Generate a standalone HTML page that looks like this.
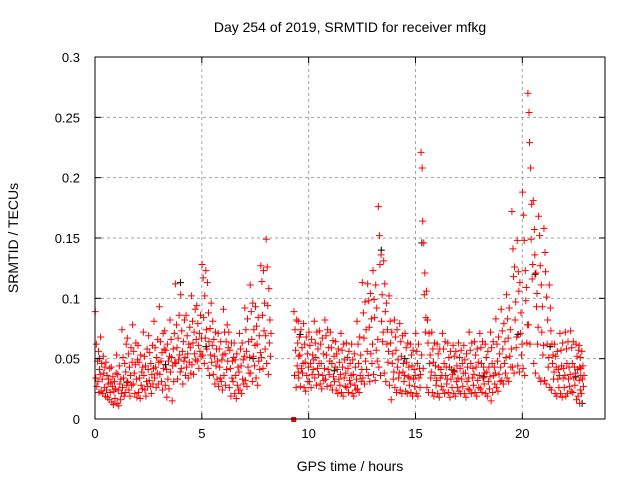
<!DOCTYPE html>
<html><head><meta charset="utf-8"><style>
body{margin:0;background:#fff}
svg{display:block;font-family:"Liberation Sans",sans-serif}
</style></head><body>
<svg id="chart" width="640" height="480" viewBox="0 0 640 480">
<rect width="640" height="480" fill="#fff"/>
<text x="350" y="32" font-size="14" text-anchor="middle">Day 254 of 2019, SRMTID for receiver mfkg</text>
<text transform="translate(18,238) rotate(-90)" font-size="14" text-anchor="middle">SRMTID / TECUs</text>
<text x="350" y="471" font-size="14" text-anchor="middle">GPS time / hours</text>
<g id="grid"></g>
<g id="marks"></g>
<g id="axes"></g>
</svg>
<script>
const xTicks=[0,5,10,15,20];
const yTicks=[0,0.05,0.1,0.15,0.2,0.25,0.3];
const yTickLabels=["0","0.05","0.1","0.15","0.2","0.25","0.3"];
const binWidth=0.25;
const binStarts=[0,0.25,0.5,0.75,1,1.25,1.5,1.75,2,2.25,2.5,2.75,3,3.25,3.5,3.75,4,4.25,4.5,4.75,5,5.25,5.5,5.75,6,6.25,6.5,6.75,7,7.25,7.5,7.75,8,
9.3,9.5,9.75,10,10.25,10.5,10.75,11,11.25,11.5,11.75,12,12.25,12.5,12.75,13,13.25,13.5,13.75,14,14.25,14.5,14.75,15,15.25,15.5,15.75,16,16.25,16.5,16.75,17,17.25,17.5,17.75,18,18.25,18.5,18.75,19,19.25,19.5,19.75,20,20.25,20.5,20.75,21,21.25,21.5,21.75,22,22.25,22.5,22.65];
const binValues=[
[8.9,3.4,6.2,2.7,4.8,3.1,5.6,2.2,4.1,3.7],
[6.8,2.3,4.6,3.3,2.1,5.2,3.8,2.6,4.3,1.9],
[4.7,2.4,3.6,1.8,2.9,3.3,1.6,4.2,2.2,3.0],
[4.3,1.4,2.7,3.5,1.2,2.3,3.1,1.7,2.5,3.8],
[5.3,1.3,3.7,2.4,1.1,4.4,2.9,1.6,3.3,2.1],
[7.4,2.6,5.1,3.4,1.9,4.6,2.2,3.9,6.2,2.8],
[6.7,3.1,5.4,2.4,4.3,1.9,3.6,5.9,2.8,4.7],
[7.8,2.9,5.6,3.8,2.1,4.5,6.3,3.3,1.8,4.9],
[6.1,2.2,4.7,3.4,1.7,5.3,2.8,3.9,2.5,4.3],
[7.2,3.6,5.2,2.4,4.4,1.9,3.1,5.8,2.7,4.1],
[6.9,3.2,5.5,2.7,4.6,2.1,3.7,6.1,2.9,4.2],
[8.1,3.4,5.9,4.3,2.6,5.1,3.8,6.6,2.9,4.7],
[9.3,3.7,6.4,4.8,3.1,5.5,2.4,7.1,4.2,5.8],
[7.3,2.8,5.7,4.1,1.8,6.2,3.3,4.8,2.5,5.2],
[8.2,3.9,6.6,5.1,1.5,4.4,5.8,3.1,7.1,4.7],
[11.2,4.6,7.8,5.9,3.3,6.7,4.9,8.6,5.3,3.9],
[10.3,4.2,7.3,5.6,2.9,6.4,4.8,8.2,5.1,3.6],
[8.6,4.3,6.9,5.4,3.4,6.2,4.7,7.6,5.9,3.8],
[10.2,4.5,8.1,6.3,3.7,7.2,5.4,9.1,4.9,6.6],
[9.4,4.8,7.9,6.1,4.2,7.1,5.6,8.6,5.2,6.7],
[12.8,5.3,11.7,8.4,4.6,10.2,6.7,12.3,7.4,5.8],
[11.3,4.2,8.8,6.4,3.6,7.5,5.3,9.6,4.7,6.1],
[8.1,3.7,6.6,5.2,2.9,7.2,4.4,5.8,3.3,4.8],
[7.1,2.7,5.8,4.3,3.4,6.4,3.1,4.9,2.4,5.3],
[9.1,3.6,7.2,5.4,2.8,6.4,4.1,7.8,4.8,5.9],
[7.2,2.6,5.7,4.2,1.9,6.3,3.4,4.8,3.1,5.1],
[6.3,2.1,4.9,3.6,1.7,5.4,2.8,4.3,2.4,3.9],
[7.1,2.4,5.8,4.4,2.1,6.3,3.3,4.9,2.9,5.2],
[9.2,3.2,7.4,5.6,2.7,8.3,4.3,6.4,3.8,5.1],
[11.1,3.8,8.9,6.6,3.1,9.6,5.2,7.4,4.4,6.1],
[9.3,3.4,7.7,6.2,2.8,8.4,4.8,6.9,4.1,5.5],
[12.7,5.1,11.4,8.6,4.2,12.3,7.3,9.6,5.8,6.9],
[14.9,4.6,12.6,9.4,3.7,10.8,6.3,8.2,5.2,7.1],
[8.9,3.6,7.4,5.7,2.6,8.2,4.4,6.3,3.9,5.2],
[8.1,3.4,6.8,5.3,2.7,7.4,4.2,5.9,3.8,4.6],
[7.9,2.6,6.2,4.7,2.3,6.8,3.6,5.4,3.1,4.3],
[7.2,3.1,6.1,4.6,2.6,6.6,3.7,5.3,4.1,4.9],
[8.1,3.4,6.3,5.1,2.8,7.2,4.2,5.8,3.7,4.6],
[7.3,2.9,6.2,4.6,2.5,6.7,3.6,5.4,3.2,4.2],
[8.2,3.3,6.9,5.3,2.7,7.4,4.1,5.9,3.7,4.8],
[7.2,2.8,5.9,4.6,2.4,6.5,3.5,5.2,3.1,4.3],
[6.4,2.4,5.4,4.1,2.1,5.8,3.3,4.7,2.8,3.7],
[7.1,2.2,5.7,4.3,1.9,6.2,3.4,4.9,2.7,3.8],
[6.3,2.6,5.1,4.2,2.2,5.6,3.2,4.6,2.9,3.6],
[6.2,2.1,4.9,3.7,1.9,5.4,2.8,4.3,2.4,3.3],
[8.1,2.5,6.2,4.6,2.2,6.8,3.6,5.3,3.1,4.1],
[11.3,3.4,8.8,6.7,2.9,9.7,4.8,7.4,4.1,5.6],
[11.2,3.6,9.8,7.6,3.1,10.4,5.4,8.3,4.6,6.2],
[12.3,3.7,9.9,8.4,3.2,11.1,5.7,9.2,4.8,6.6],
[17.6,4.3,15.2,12.8,3.6,13.6,8.1,10.3,6.4,7.2],
[13.1,3.8,11.2,8.9,3.1,9.6,6.2,7.4,4.7,5.6],
[10.2,2.8,8.1,6.3,1.6,7.2,4.6,5.4,3.3,3.9],
[8.2,2.6,6.8,5.7,2.2,7.4,4.3,4.9,3.4,3.8],
[7.9,2.4,6.4,5.2,2.1,6.9,3.9,4.6,3.1,3.6],
[7.1,2.3,5.9,4.7,2.1,6.3,3.5,4.3,2.8,3.4],
[6.2,2.2,5.3,4.4,1.9,5.7,3.3,4.1,2.7,3.6],
[7.1,2.1,5.6,4.6,1.9,6.2,3.4,4.2,2.6,3.7],
[22.1,5.3,20.8,16.4,4.2,14.6,10.3,12.1,7.2,8.4],
[10.6,2.6,8.2,6.3,2.2,7.1,4.6,5.3,3.4,3.9],
[7.2,2.2,5.8,4.7,1.9,6.3,3.6,4.4,2.8,3.2],
[6.2,2.1,5.4,4.3,1.8,5.8,3.4,4.1,2.7,3.6],
[7.1,2.4,5.8,4.6,2.1,6.4,3.6,4.3,2.9,3.3],
[6.3,2.2,5.1,4.3,1.8,5.6,3.3,4.1,2.6,3.7],
[6.1,2.1,5.2,3.9,1.9,5.6,3.1,4.4,2.6,3.4],
[6.3,2.3,5.1,4.2,2.1,5.7,3.3,4.6,2.7,3.8],
[6.1,2.1,4.9,3.8,1.8,5.4,3.1,4.3,2.5,3.4],
[7.2,2.4,5.7,4.6,2.1,6.3,3.4,4.2,2.8,3.7],
[6.4,2.2,5.3,4.3,1.9,5.8,3.2,4.7,2.6,3.6],
[7.1,2.5,5.9,4.6,2.2,6.4,3.4,4.3,2.9,3.8],
[6.2,2.1,5.1,3.9,1.9,5.6,3.1,4.3,2.5,3.5],
[7.2,1.5,5.9,4.6,2.2,6.4,3.6,4.3,2.9,3.8],
[8.3,2.6,6.2,4.8,2.3,6.8,3.7,5.4,3.1,4.3],
[9.1,3.2,7.3,5.8,2.9,7.9,4.6,6.4,3.8,5.1],
[10.3,3.4,8.3,6.7,3.1,9.2,5.2,7.4,4.3,5.8],
[17.2,4.3,14.1,11.8,3.8,12.6,8.2,9.7,5.9,6.8],
[14.8,4.4,12.2,10.6,3.9,11.3,7.1,8.8,5.3,6.2],
[18.8,4.2,16.9,14.8,3.6,12.3,9.8,10.9,6.3,7.8],
[27.0,7.8,25.4,22.9,6.2,20.8,14.9,17.8,11.6,12.8],
[18.1,4.6,15.7,13.6,3.8,12.1,9.3,10.4,6.2,7.6],
[16.8,3.4,15.2,12.7,3.1,11.1,7.2,9.3,5.3,6.1],
[15.8,3.2,13.8,12.2,2.9,10.1,6.2,8.2,4.3,5.1],
[11.1,2.6,9.2,7.3,2.4,6.2,4.6,5.3,3.3,3.9],
[6.2,2.1,5.2,4.3,1.9,5.6,3.3,4.1,2.6,3.6],
[7.1,2.1,5.7,4.4,1.8,6.3,3.4,4.2,2.6,3.6],
[7.2,1.9,5.8,4.6,2.1,6.4,3.3,4.3,2.7,3.7],
[7.3,2.3,5.9,4.6,2.2,6.4,3.4,4.3,2.8,3.8],
[6.2,1.6,5.2,4.1,1.9,5.7,3.2,4.3,2.4,3.6],
[6.1,1.3,5.1,4.2,2.1,5.6,3.3,4.4,2.7,3.6]];
const blackTimes=[0.2,1.5,3.3,4.0,5.2,7.4,9.6,11.2,13.4,14.5,15.3,16.8,18.2,19.8,20.6,21.3,22.5,22.8];
const blackValues=[0.05,0.03,0.045,0.113,0.06,0.05,0.07,0.04,0.14,0.05,0.146,0.04,0.035,0.07,0.12,0.06,0.035,0.013];
const X0=95,X1=605,XMAX=23.87,Y0=419,Y1=57,YMAX=0.3;
const NS="http://www.w3.org/2000/svg";
function sx(t){return X0+(X1-X0)*t/XMAX;}
function sy(v){return Y0-(Y0-Y1)*v/YMAX;}
function mk(tag,attrs,parent){const e=document.createElementNS(NS,tag);for(const k in attrs)e.setAttribute(k,attrs[k]);parent.appendChild(e);return e;}
const grid=document.getElementById('grid'),marks=document.getElementById('marks'),axes=document.getElementById('axes');
xTicks.forEach(t=>{
  if(t>0){const g=mk('line',{x1:sx(t),x2:sx(t),y1:Y1,y2:Y0,stroke:'#a0a0a0','stroke-dasharray':'3,3'},grid);
  
  }
  const tl=mk('line',{x1:sx(t),x2:sx(t),y1:Y0,y2:Y0-6,stroke:'#000'},axes);
  
  
  const tt=mk('line',{x1:sx(t),x2:sx(t),y1:Y1,y2:Y1+6,stroke:'#000'},axes);
  
  
  const lb=mk('text',{x:sx(t),y:Y0+19,'font-size':13,'text-anchor':'middle'},axes);
  lb.textContent=String(t);
  
  
});
yTicks.forEach((v,i)=>{
  if(v>0&&v<YMAX){const g=mk('line',{x1:X0,x2:X1,y1:sy(v),y2:sy(v),stroke:'#a0a0a0','stroke-dasharray':'3,3'},grid);
  
  }
  const tl=mk('line',{x1:X0,x2:X0+6,y1:sy(v),y2:sy(v),stroke:'#000'},axes);
  
  
  const tr=mk('line',{x1:X1,x2:X1-6,y1:sy(v),y2:sy(v),stroke:'#000'},axes);
  
  
  const lb=mk('text',{x:X0-15,y:sy(v)+5,'font-size':13,'text-anchor':'end'},axes);
  lb.textContent=yTickLabels[i];
  
  
});
const border=mk('rect',{x:X0,y:Y1,width:X1-X0,height:Y0-Y1,fill:'none',stroke:'#000'},axes);


function cross(t,v,color){
  const x=sx(t),y=sy(v);
  const p=mk('path',{d:`M${x-3.5},${y}H${x+3.5}M${x},${y-3.5}V${y+3.5}`,stroke:color,'stroke-width':1,fill:'none'},marks);
  return p;
}
blackTimes.forEach((t,i)=>{
  const p=cross(t,blackValues[i],'#000');
  
  
});
binStarts.forEach((b,i)=>{
  const vals=binValues[i];
  vals.forEach((v,j)=>{
    const t=b+(j+0.5)*binWidth/vals.length;
    const p=cross(t,v/100,'#ff0000');
    
    
  });
});
const sq=mk('rect',{x:sx(9.3)-2.5,y:Y0-2,width:5,height:5,fill:'#ff0000'},marks);


</script>
</body></html>
